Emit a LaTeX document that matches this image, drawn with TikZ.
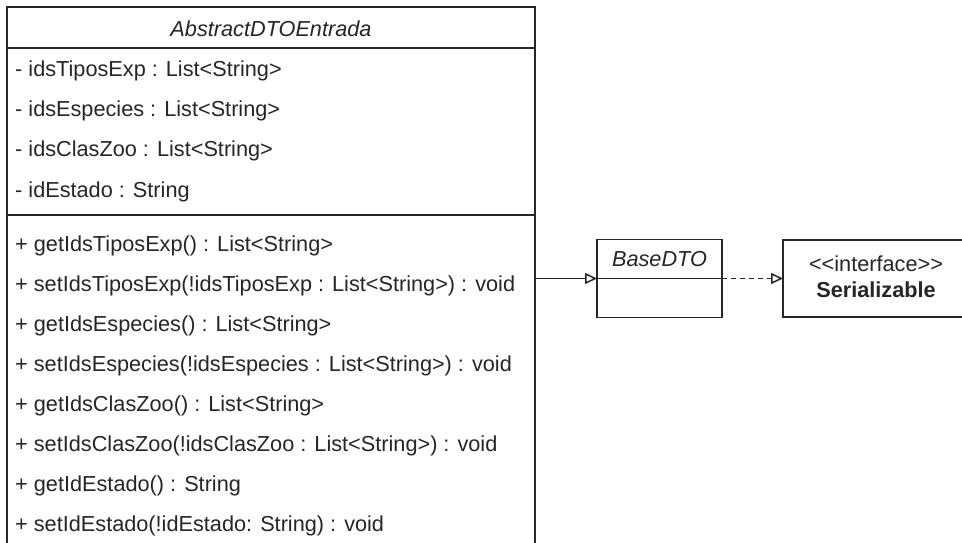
\documentclass[tikz,border=0pt]{standalone}
\usepackage{fontspec}
\newfontfamily\umlfont{Liberation Sans}
\usetikzlibrary{arrows.meta}
\begin{document}
\begin{tikzpicture}[x=1pt,y=-1pt,
  umltext/.style={font=\umlfont\fontsize{21.7}{26}\selectfont, text=black!85, inner sep=0pt},
  row/.style={umltext, anchor=base west},
  classbox/.style={draw=black!85, line width=1.6pt, fill=white, inner sep=0pt, outer sep=0pt, anchor=north west},
  divider/.style={draw=black!85, line width=1.6pt},
  inherit/.style={draw=black!85, line width=1.5pt, -{Triangle[open, length=12pt, width=11pt]}},
  realize/.style={inherit, dash pattern=on 5pt off 4pt}]
\useasboundingbox (0,0) rectangle (962,543);
\clip (0,0) rectangle (962,543);

% class AbstractDTOEntrada
\node[classbox, minimum width=528pt, minimum height=543pt] (entrada) at (7,7) {};
\draw[divider] (7,48) -- (535,48);
\draw[divider] (7,215) -- (535,215);
\node[umltext, anchor=base] (entradaname) at (271,37) {\itshape AbstractDTOEntrada};

\node[row] (a1) at (15,77)  {- idsTiposExp : List<String>};
\node[row] (a2) at (15,117) {- idsEspecies : List<String>};
\node[row] (a3) at (15,157) {- idsClasZoo : List<String>};
\node[row] (a4) at (15,197) {- idEstado : String};

\node[row] (m1) at (15,251) {+ getIdsTiposExp() : List<String>};
\node[row] (m2) at (15,291) {+ setIdsTiposExp(!idsTiposExp : List<String>) : void};
\node[row] (m3) at (15,331) {+ getIdsEspecies() : List<String>};
\node[row] (m4) at (15,371) {+ setIdsEspecies(!idsEspecies : List<String>) : void};
\node[row] (m5) at (15,411) {+ getIdsClasZoo() : List<String>};
\node[row] (m6) at (15,451) {+ setIdsClasZoo(!idsClasZoo : List<String>) : void};
\node[row] (m7) at (15,491) {+ getIdEstado() : String};
\node[row] (m8) at (15,531) {+ setIdEstado(!idEstado: String) : void};

% class BaseDTO
\node[classbox, minimum width=125pt, minimum height=78pt] (base) at (597,239.5) {};
\draw[divider] (597,278.5) -- (722,278.5);
\node[umltext, anchor=base] (basename) at (659.5,266) {\itshape BaseDTO};

% interface Serializable
\node[classbox, minimum width=186pt, minimum height=77pt] (ser) at (783,240) {};
\node[umltext, anchor=base] (serstereo) at (876,271) {<<interface>>};
\node[umltext, anchor=base] (sername) at (876,297) {\bfseries Serializable};

% relations
\draw[inherit] (entrada.east) -- (base.west);
\draw[realize] (base.east) -- (ser.west);
\end{tikzpicture}
\end{document}
